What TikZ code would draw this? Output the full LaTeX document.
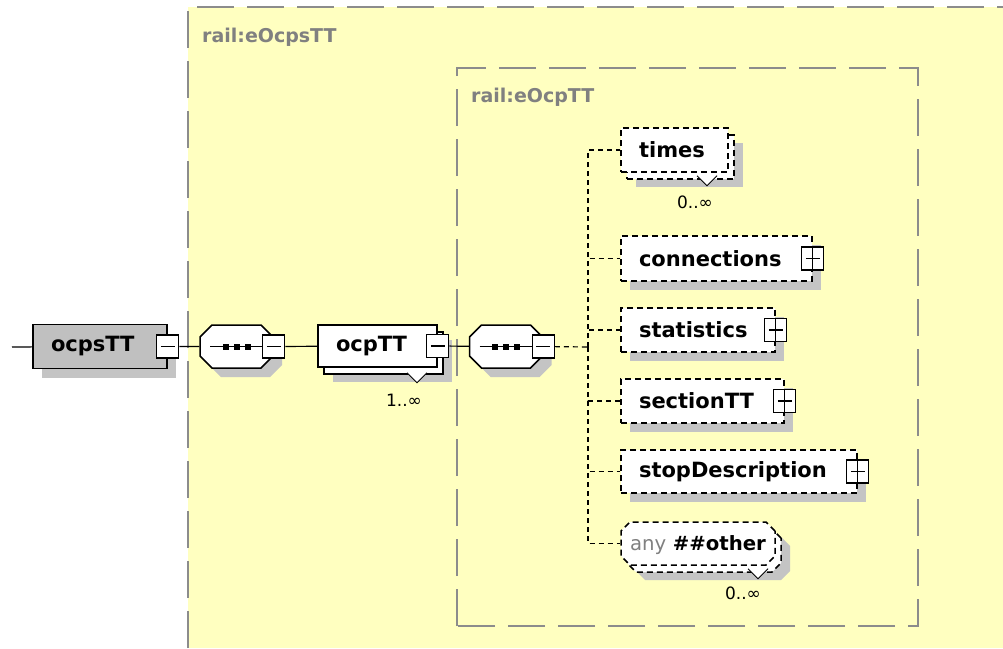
\documentclass[tikz,border=0pt]{standalone}
\usepackage{fontspec}
\setmainfont{DejaVu Sans}
\usetikzlibrary{positioning, shapes.misc, shadows}
\definecolor{schemabg}{RGB}{255,255,192}
\definecolor{framegray}{RGB}{140,140,140}
\definecolor{labelgray}{RGB}{128,128,128}
\definecolor{elemgray}{RGB}{192,192,192}
\definecolor{shadegray}{RGB}{196,196,196}
\tikzset{%
	frame/.style = {draw = framegray, line width = 2pt, dash pattern = on 37pt off 13pt},
	framelabel/.style = {anchor = west, inner sep = 0pt, text = labelgray, font = \fontsize{19}{22}\selectfont\bfseries},
	box/.style = {draw, fill = white, line width = 1.5pt, inner xsep = 18pt, inner ysep = 0pt, minimum height = 44pt, align = left, font = \fontsize{21}{25}\selectfont\bfseries},
	single/.style = {general shadow = {fill = shadegray, shadow xshift = 9pt, shadow yshift = -9pt}},
	multi/.style = {general shadow = {fill = shadegray, shadow xshift = 15pt, shadow yshift = -15pt},
		general shadow = {fill = white, draw, shadow xshift = 6pt, shadow yshift = -7pt}},
	opt/.style = {dash pattern = on 6pt off 4pt},
	cut/.style = {chamfered rectangle, chamfered rectangle xsep = 1pt, chamfered rectangle ysep = 11pt, inner sep = 0pt, minimum size = 0pt, text height = 14pt, text depth = 7pt},
	seq/.style = {cut, draw, fill = white, line width = 1.5pt, text width = 71pt, single,
		path picture = {
			\draw [black, line width = 1.2pt, solid] ([xshift = 10pt]path picture bounding box.west) -- ([xshift = -10pt]path picture bounding box.east);
			\foreach \dx in {-11, 0, 11}
				\fill [black] ([xshift = \dx pt]path picture bounding box.center) +(-3pt, -3pt) rectangle +(3pt, 3pt);
		}},
	minus/.style = {draw, solid, fill = white, line width = 1.2pt, minimum width = 22pt, minimum height = 23pt, inner sep = 0pt,
		path picture = {
			\draw [line width = 1.2pt] ([xshift = 4pt]path picture bounding box.west) -- ([xshift = -4pt]path picture bounding box.east);
		}},
	plus/.style = {minus,
		path picture = {
			\draw [line width = 1.2pt] ([xshift = 4pt]path picture bounding box.west) -- ([xshift = -4pt]path picture bounding box.east);
			\draw [line width = 1.2pt] (path picture bounding box.south) -- (path picture bounding box.north);
		}},
	notch/.style = {draw, fill = white, line width = 1pt},
	card/.style = {inner sep = 0pt, font = \fontsize{17}{20}\selectfont},
	link/.style = {line width = 1.2pt},
	choice/.style = {line width = 1.2pt, dash pattern = on 5pt off 4pt}
}
\begin{document}
\begin{tikzpicture}[x = 1pt, y = -1pt]
			\useasboundingbox (0,0) rectangle (1003,648);
			% complex type areas
			\fill [schemabg] (188,7) rectangle (1003,648);
			\draw [frame] (188,648) -- (188,7) -- (1003,7);
			\draw [frame] (457,626) -- (457,68) -- (918,68) -- (918,626) -- cycle;
			\node [framelabel] (outerlabel) at (202,37) {rail:eOcpsTT};
			\node [framelabel] (innerlabel) at (471,97) {rail:eOcpTT};
			% root and sequences
			\node [box, single, fill = elemgray, text width = 98pt] (ocpsTT) at (100,346.5) {ocpsTT};
			\node [minus] (ocpsTT-m) at (ocpsTT.east) {};
			\node [seq] (seq1) at (236.5,346.5) {};
			\node [minus] (seq1-m) at (seq1.east) {};
			\node [box, multi, text width = 83pt, minimum height = 42pt] (ocpTT) at (377.5,346) {ocpTT};
			\node [minus] (ocpTT-m) at (ocpTT.east) {};
			\filldraw [notch] ([xshift = 29.5pt, yshift = -5pt]ocpTT.south) -- +(10,10) -- +(20,0);
			\node [card] (ocpTT-card) at (404,400) {1..∞};
			\node [seq] (seq2) at (506,346.5) {};
			\node [minus] (seq2-m) at (seq2.east) {};
			\coordinate (in) at (12,347);
			\coordinate (fork) at (588,347);
			% children
			\node [box, opt, multi, text width = 71pt] (times) at (674.5,150) {times};
			\filldraw [notch] ([xshift = 22.5pt, yshift = -3pt]times.south) -- +(10,10) -- +(20,0);
			\node [card] (times-card) at (695,202) {0..∞};
			\node [box, opt, single, text width = 155pt, minimum height = 45pt] (connections) at (716.5,258.5) {connections};
			\node [plus] (connections-p) at (connections.east) {};
			\node [box, opt, single, text width = 118pt] (statistics) at (698,330) {statistics};
			\node [plus] (statistics-p) at (statistics.east) {};
			\node [box, opt, single, text width = 127pt] (sectionTT) at (702.5,401) {sectionTT};
			\node [plus] (sectionTT-p) at (sectionTT.east) {};
			\node [box, opt, single, text width = 200pt, minimum height = 43pt] (stopDescription) at (739,471.5) {stopDescription};
			\node [plus] (stopDescription-p) at (stopDescription.east) {};
			\node [box, opt, multi, cut, chamfered rectangle ysep = 8pt, text height = 20.7pt, text depth = 6.3pt, text width = 152pt, align = center, font = \fontsize{19.7}{24}\selectfont\bfseries] (other) at (698,543.5) {\textcolor{labelgray}{\mdseries any} \#\#other};
			\filldraw [notch] ([xshift = 50pt, yshift = -3pt]other.south) -- +(10,10) -- +(20,0);
			\node [card] (other-card) at (743,593) {0..∞};
			% connectors
			\path [link] (in) edge (ocpsTT);
			\path [link] (ocpsTT-m) edge (seq1);
			\path [link] (seq1-m) edge (ocpTT);
			\path [link] (ocpTT-m) edge (seq2);
			\path [choice] (seq2-m) edge (fork);
			\draw [choice] (fork) |- (times);
			\draw [choice] (fork) |- (connections);
			\draw [choice] (fork) |- (statistics);
			\draw [choice] (fork) |- (sectionTT);
			\draw [choice] (fork) |- (stopDescription);
			\draw [choice] (fork) |- (other);
\end{tikzpicture}
\end{document}
